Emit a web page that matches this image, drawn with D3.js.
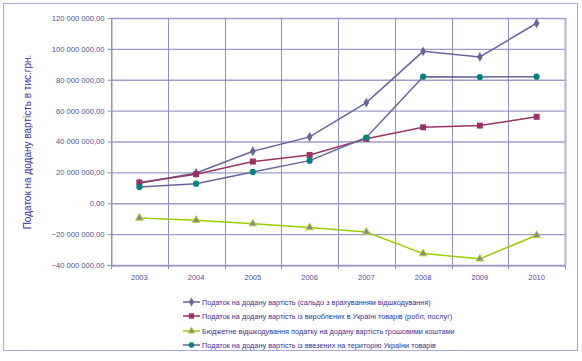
<!DOCTYPE html>
<html><head><meta charset="utf-8">
<script src="https://cdn.jsdelivr.net/npm/d3@7"></script>
<style>body{margin:0;background:#fff;}svg{display:block;font-family:"Liberation Sans",Arial,sans-serif;}</style>
</head><body><svg id="c" width="582" height="361"></svg>
<script>
const years = ["2003","2004","2005","2006","2007","2008","2009","2010"];
const saldo = [13.0,19.6,33.7,43.0,65.2,98.4,94.8,116.6];
const vyrob = [13.4,18.8,27.0,31.3,41.8,49.2,50.3,56.0];
const vidshk = [-9.5,-11.0,-13.2,-15.7,-18.6,-32.6,-36.0,-20.7];
const vvez = [10.6,12.7,20.3,27.6,42.6,82.0,81.8,82.0];
const yTicks = [-40,-20,0,20,40,60,80,100,120];
const seriesNames = [
 "Податок на додану вартість (сальдо з врахуванням відшкодування)",
 "Податок на додану вартість із вироблених в Україні товарів (робіт, послуг)",
 "Бюджетне відшкодування податку на додану вартість грошовими коштами",
 "Податок на додану вартість із ввезених на територію України товарів"
];
const series = [
 {vals:saldo, line:"#666699", fill:"#666699", sym:d3.symbolDiamond, size:28},
 {vals:vyrob, line:"#993366", fill:"#993366", sym:d3.symbolSquare, size:36},
 {vals:vidshk, line:"#99cc00", fill:"#888888", stroke:"#b5d63a", sym:d3.symbolTriangle, size:26},
 {vals:vvez, line:"#666699", fill:"#008080", sym:d3.symbolCircle, size:30}
];
const svg = d3.select("#c");
svg.append("rect").attr("x",3.5).attr("y",3.5).attr("width",574).attr("height",347)
  .attr("fill","#fff").attr("stroke","#a8a8d0").attr("stroke-width",1);
const L=111,R=565,T=18,B=265;
const x = d3.scaleBand().domain(years).range([L,R]);
const y = d3.scaleLinear().domain([-40,120]).range([B,T]);
const grid = svg.append("g");
grid.selectAll("line.h").data(yTicks).join("line")
  .attr("x1",L).attr("x2",R).attr("y1",d=>y(d)+0.5).attr("y2",d=>y(d)+0.5)
  .attr("stroke","#9c9cc8").attr("stroke-width",1.4);
const bounds = years.map(d=>x(d)).concat([R]);
grid.selectAll("line.v").data(bounds).join("line")
  .attr("x1",d=>Math.round(d)+0.5).attr("x2",d=>Math.round(d)+0.5).attr("y1",T).attr("y2",B+4)
  .attr("stroke","#8f8fc0").attr("stroke-width",1);
grid.append("line").attr("x1",R+0.5).attr("x2",R+0.5).attr("y1",T).attr("y2",B)
  .attr("stroke","#b0b0d8").attr("stroke-width",2);
const yAxis = d3.axisLeft(y).tickValues(yTicks).tickSize(4).tickPadding(3)
  .tickFormat(d=>d===0?"0,00":d3.format(",")(d*1e6).replace(/,/g," ")+",00");
const ya = svg.append("g").attr("transform",`translate(${L+0.5},0)`).call(yAxis);
ya.select(".domain").attr("stroke","#8f8fc0");
ya.selectAll(".tick line").attr("stroke","#8f8fc0");
ya.selectAll("text").attr("fill","#4d4d99").attr("font-size","7.6px");
const xa = svg.append("g").attr("transform",`translate(0,${B+0.5})`).call(d3.axisBottom(x).tickSize(0).tickPadding(9));
xa.select(".domain").attr("stroke","#8f8fc0");
xa.selectAll("text").attr("fill","#4d4d99").attr("font-size","7.6px");
svg.append("text").attr("transform","translate(31,142) rotate(-90)").attr("text-anchor","middle")
  .attr("fill","#333399").attr("font-size","10px").text("Податок на додану вартість в тис.грн.");
const line = d3.line().x((d,i)=>x(years[i])+x.bandwidth()/2).y(d=>y(d));
series.forEach(s=>{
  svg.append("path").attr("d",line(s.vals)).attr("fill","none").attr("stroke",s.line).attr("stroke-width",1.5);
});
series.forEach(s=>{
  svg.append("g").selectAll("path").data(s.vals).join("path")
    .attr("transform",(d,i)=>`translate(${x(years[i])+x.bandwidth()/2},${y(d)})`)
    .attr("d",d3.symbol().type(s.sym).size(s.size))
    .attr("fill",s.fill).attr("stroke",s.stroke||"none").attr("stroke-width",1);
});
const lg = svg.append("g");
const ly = [302,316,331,345];
series.forEach((s,i)=>{
  const g = lg.append("g").attr("transform",`translate(183,${ly[i]})`);
  g.append("line").attr("x1",0).attr("x2",17).attr("y1",0).attr("y2",0).attr("stroke",s.line).attr("stroke-width",1.5);
  g.append("path").attr("transform","translate(8.5,0)").attr("d",d3.symbol().type(s.sym).size(s.size*0.8))
    .attr("fill",s.fill).attr("stroke",s.stroke||"none");
  g.append("text").attr("x",19).attr("y",3).attr("fill","#333399").attr("font-size","7.3px").text(seriesNames[i]);
});
</script></body></html>
